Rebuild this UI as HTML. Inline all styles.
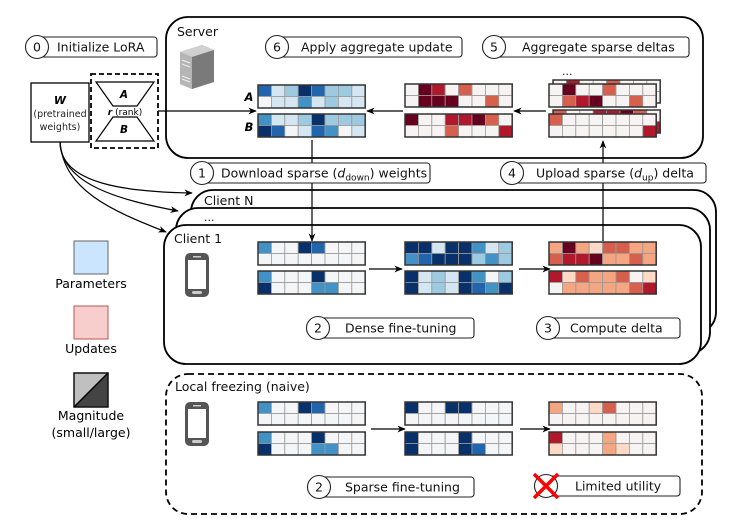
<!DOCTYPE html>
<html><head><meta charset="utf-8"><style>
html,body{margin:0;padding:0;background:#fff;}
svg{display:block;font-family:"DejaVu Sans","Liberation Sans",sans-serif;}
</style></head><body>
<svg id="s" width="736" height="532" viewBox="0 0 736 532" xmlns="http://www.w3.org/2000/svg">
<defs>
<marker id="ah" viewBox="0 0 10 10" refX="9" refY="5" markerWidth="7" markerHeight="7" orient="auto"><path d="M0,1 L10,5 L0,9 L3,5 z" fill="#000"/></marker>
</defs>
<g fill="none" stroke="#000" stroke-width="1.8">
<rect x="166" y="17" width="537" height="141" rx="22"/>
<rect x="191" y="190" width="525" height="144" rx="22" fill="#fff"/>
<rect x="176" y="208" width="534" height="146" rx="22" fill="#fff"/>
<rect x="164" y="225" width="537" height="139" rx="22" fill="#fff"/>
<rect x="166" y="374" width="536" height="140" rx="22" stroke-dasharray="6,4"/>
</g>
<g font-size="12.5" fill="#111">
<text x="177" y="36">Server</text>
<text x="204" y="205">Client N</text>
<text x="204" y="221" font-size="11">...</text>
<text x="174" y="243">Client 1</text>
<text x="175" y="391">Local freezing (naive)</text>
<text x="562" y="75" font-size="11">...</text>
</g>
<g>
<polygon points="180,52 202,45 214,50 214,82 192,89 180,84" fill="#9a9a9a"/>
<polygon points="180,52 202,45 214,50 192,57" fill="#d0d0d0"/>
<polygon points="192,57 214,50 214,82 192,89" fill="#7a7a7a"/>
<polygon points="180,52 192,57 192,89 180,84" fill="#b5b5b5"/>
<g stroke="#eee" stroke-width="1"><line x1="182" y1="60" x2="190" y2="63"/><line x1="182" y1="64" x2="190" y2="67"/><line x1="182" y1="76" x2="190" y2="79"/><line x1="182" y1="79" x2="190" y2="82"/></g>
</g>
<g id="ph">
<rect x="185" y="253" width="24" height="44" rx="5" fill="#555"/>
<rect x="188" y="260" width="18" height="29" fill="#fff"/>
<rect x="193" y="256" width="8" height="1.5" fill="#ccc"/>
<rect x="192" y="291" width="10" height="3" rx="1.5" fill="#ccc"/>
</g>
<use href="#ph" y="149"/>
<rect x="31" y="83" width="58" height="59" fill="#fff" stroke="#000" stroke-width="1.3"/>
<text x="60" y="104" font-size="11" font-weight="bold" font-style="italic" text-anchor="middle">W</text>
<text x="60" y="117" font-size="9.5" text-anchor="middle" fill="#222">(pretrained</text>
<text x="60" y="130" font-size="9.5" text-anchor="middle" fill="#222">weights)</text>
<rect x="91" y="74" width="67" height="74" fill="none" stroke="#000" stroke-width="1.8" stroke-dasharray="5,3"/>
<polygon points="96,82 154,82 137,106 113,106" fill="#fff" stroke="#000" stroke-width="1.2"/>
<polygon points="113,117 137,117 154,141 96,141" fill="#fff" stroke="#000" stroke-width="1.2"/>
<text x="124" y="98" font-size="10.5" font-weight="bold" font-style="italic" text-anchor="middle">A</text>
<text x="124" y="133" font-size="10.5" font-weight="bold" font-style="italic" text-anchor="middle">B</text>
<text x="125" y="115" font-size="9" text-anchor="middle"><tspan font-weight="bold" font-style="italic">r</tspan> (rank)</text>
<text x="249" y="101" font-size="11.5" font-weight="bold" font-style="italic" text-anchor="middle">A</text>
<text x="249" y="131" font-size="11.5" font-weight="bold" font-style="italic" text-anchor="middle">B</text>
<g fill="none" stroke="#000" stroke-width="1.2">
<polyline points="158,111 256,111" marker-end="url(#ah)"/>
<line x1="403" y1="111" x2="367" y2="111" marker-end="url(#ah)"/>
<line x1="546" y1="111" x2="514" y2="111" marker-end="url(#ah)"/>
<line x1="312" y1="140" x2="312" y2="241" marker-end="url(#ah)"/>
<line x1="603" y1="241" x2="603" y2="141" marker-end="url(#ah)"/>
<line x1="369" y1="269" x2="402" y2="269" marker-end="url(#ah)"/>
<line x1="519" y1="269" x2="550" y2="269" marker-end="url(#ah)"/>
<line x1="371" y1="429" x2="405" y2="429" marker-end="url(#ah)"/>
<line x1="520" y1="429" x2="550" y2="429" marker-end="url(#ah)"/>
<path d="M60,142 C60,185 130,192 192,193" marker-end="url(#ah)"/>
<path d="M60,142 C62,185 120,200 178,211" marker-end="url(#ah)"/>
<path d="M60,142 C64,190 110,210 166,232" marker-end="url(#ah)"/>
</g>
<g id="mats"></g>
<g font-size="12.5" fill="#111" stroke-width="1.1">
<rect x="37" y="37" width="120" height="20" rx="3" fill="#fff" stroke="#222"/>
<circle cx="37" cy="47" r="11.5" fill="#fff" stroke="#222"/>
<text x="37" y="51.5" text-anchor="middle">0</text>
<text x="57" y="51.5">Initialize LoRA</text>
<rect x="277" y="37" width="185" height="20" rx="3" fill="#fff" stroke="#222"/>
<circle cx="277" cy="47" r="11.5" fill="#fff" stroke="#222"/>
<text x="277" y="51.5" text-anchor="middle">6</text>
<text x="301" y="51.5">Apply aggregate update</text>
<rect x="494" y="37" width="195" height="20" rx="3" fill="#fff" stroke="#222"/>
<circle cx="494" cy="47" r="11.5" fill="#fff" stroke="#222"/>
<text x="494" y="51.5" text-anchor="middle">5</text>
<text x="522" y="51.5">Aggregate sparse deltas</text>
<rect x="202" y="163" width="228" height="20" rx="3" fill="#fff" stroke="#222"/>
<circle cx="202" cy="173" r="11.5" fill="#fff" stroke="#222"/>
<text x="202" y="177.5" text-anchor="middle">1</text>
<text x="221" y="177.5">Download sparse (<tspan font-style="italic">d</tspan><tspan font-size="9" dy="3">down</tspan><tspan dy="-3">) weights</tspan></text>
<rect x="512" y="163" width="194" height="20" rx="3" fill="#fff" stroke="#222"/>
<circle cx="512" cy="173" r="11.5" fill="#fff" stroke="#222"/>
<text x="512" y="177.5" text-anchor="middle">4</text>
<text x="536" y="177.5">Upload sparse (<tspan font-style="italic">d</tspan><tspan font-size="9" dy="3">up</tspan><tspan dy="-3">) delta</tspan></text>
<rect x="318" y="318" width="156" height="20" rx="3" fill="#fff" stroke="#222"/>
<circle cx="318" cy="328" r="11.5" fill="#fff" stroke="#222"/>
<text x="318" y="332.5" text-anchor="middle">2</text>
<text x="345" y="332.5">Dense fine-tuning</text>
<rect x="548" y="318" width="132" height="20" rx="3" fill="#fff" stroke="#222"/>
<circle cx="548" cy="328" r="11.5" fill="#fff" stroke="#222"/>
<text x="548" y="332.5" text-anchor="middle">3</text>
<text x="570" y="332.5">Compute delta</text>
<rect x="319" y="477" width="155" height="20" rx="3" fill="#fff" stroke="#222"/>
<circle cx="319" cy="487" r="11.5" fill="#fff" stroke="#222"/>
<text x="319" y="491.5" text-anchor="middle">2</text>
<text x="345" y="491.5">Sparse fine-tuning</text>
<rect x="546" y="476" width="134" height="20" rx="3" fill="#fff" stroke="#222"/>
<circle cx="546" cy="486" r="11.5" fill="#fff" stroke="#222"/>
<g stroke="#ff0000" stroke-width="3.5"><line x1="534" y1="474" x2="558" y2="498"/><line x1="558" y1="474" x2="534" y2="498"/></g>
<text x="575" y="490.5">Limited utility</text>
</g>
<rect x="74" y="241" width="34" height="33" fill="#cce5ff" stroke="#666" stroke-width="1"/>
<text x="91" y="288" font-size="12.5" text-anchor="middle">Parameters</text>
<rect x="74" y="306" width="34" height="33" fill="#f8cecc" stroke="#b85450" stroke-width="1"/>
<text x="91" y="353" font-size="12.5" text-anchor="middle">Updates</text>
<polygon points="74,373 108,373 74,407" fill="#c0c0c0"/>
<polygon points="108,373 108,407 74,407" fill="#444"/>
<rect x="74" y="373" width="34" height="34" fill="none" stroke="#111" stroke-width="1.5"/>
<line x1="74" y1="407" x2="108" y2="373" stroke="#000" stroke-width="1.5"/>
<text x="91" y="420" font-size="12.5" text-anchor="middle">Magnitude</text>
<text x="91" y="437" font-size="12.5" text-anchor="middle">(small/large)</text>
<script>
(function(){
var NS="http://www.w3.org/2000/svg";
var B=["#f3f5f6","#d4e6f1","#9ecae1","#4292c6","#2166ac","#08306b"];
var R=["#f6f3f2","#fdd9c6","#f4a582","#d6604d","#b2182b","#67001f"];
var g=document.getElementById("mats");
function mat(x,y,rows,pal){
 var cw=13.4,ch=11.5;
 rows.forEach(function(r,ri){for(var i=0;i<8;i++){var e=document.createElementNS(NS,"rect");
 e.setAttribute("x",x+i*cw);e.setAttribute("y",y+ri*ch);e.setAttribute("width",cw);e.setAttribute("height",ch);
 e.setAttribute("fill",pal[+r[i]]);e.setAttribute("stroke","#999");e.setAttribute("stroke-width","0.8");g.appendChild(e);}});
 var o=document.createElementNS(NS,"rect");o.setAttribute("x",x);o.setAttribute("y",y);o.setAttribute("width",cw*8);o.setAttribute("height",ch*2);
 o.setAttribute("fill","none");o.setAttribute("stroke","#333");o.setAttribute("stroke-width","1.5");g.appendChild(o);
}
mat(258,85,["41254221","01131211"],B);mat(258,114,["31125222","54014301"],B);
mat(405,84,["05403000","05550030"],R);mat(405,114,["50044530","00030004"],R);
mat(553,80,["04003000","03450030"],R);mat(549,84,["05003000","03450030"],R);
mat(553,110,["30044530","00000004"],R);mat(549,114,["30000000","00000004"],R);
mat(258,242,["30054000","00000000"],B);mat(258,271,["30005000","50003300"],B);
mat(405,242,["55155312","34555232"],B);mat(405,271,["51215302","51215435"],B);
mat(549,242,["25213322","34452232"],R);mat(549,271,["41322301","02222234"],R);
mat(258,402,["30054000","00000000"],B);mat(258,432,["30005000","50003300"],B);
mat(405,402,["50055000","00000000"],B);mat(405,432,["50005000","50005400"],B);
mat(549,402,["20013000","00000000"],R);mat(549,432,["40002000","10002100"],R);
})();
</script>
</svg>
</body></html>
